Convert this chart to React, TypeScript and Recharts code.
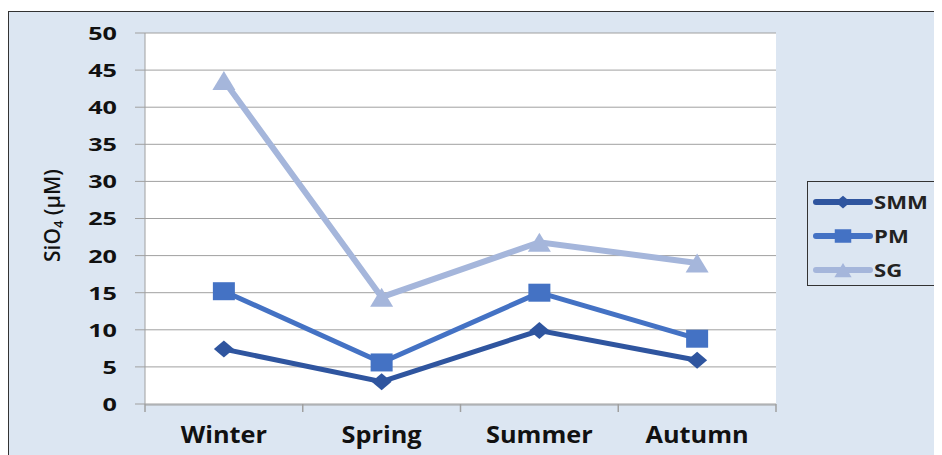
import { LineChart, Line, XAxis, YAxis, CartesianGrid } from 'recharts'

const seasons = ['Winter', 'Spring', 'Summer', 'Autumn']
const smm = [7.4, 3.0, 9.9, 5.9]
const pm = [15.2, 5.6, 15.0, 8.8]
const sg = [43.6, 14.4, 21.8, 19.0]
const yTicks = [0, 5, 10, 15, 20, 25, 30, 35, 40, 45, 50]
const boundaryTicks = [0, 1, 2, 3, 4]

const series = [
    { key: 'SMM', color: '#2F559F', shape: 'diamond' },
    { key: 'PM', color: '#4472C4', shape: 'square' },
    { key: 'SG', color: '#A5B6DB', shape: 'triangle' },
]

const data = seasons.map((s, i) => ({ season: s, SMM: smm[i], PM: pm[i], SG: sg[i] }))

// markers are drawn a bit wider than tall, like the stretched original
const Marker = ({ cx, cy, shape, color, k = 1 }: any) => {
    if (cx == null || cy == null) return null
    if (shape === 'diamond') {
        const w = 10 * k, h = 8.5 * k
        return <polygon points={`${cx},${cy - h} ${cx + w},${cy} ${cx},${cy + h} ${cx - w},${cy}`} fill={color} />
    }
    if (shape === 'square') {
        const w = 11 * k, h = 9 * k
        return <rect x={cx - w} y={cy - h} width={w * 2} height={h * 2} fill={color} />
    }
    const w = 11.5 * k, h = 9.5 * k
    return <polygon points={`${cx},${cy - h} ${cx + w},${cy + h} ${cx - w},${cy + h}`} fill={color} />
}

const stretch = (x: number, y: number, s: number) => `translate(${x},${y}) scale(${s},1) translate(${-x},${-y})`

const YTick = ({ x, y, payload }: any) => (
    <text x={x} y={y} textAnchor="end" dominantBaseline="central" transform={stretch(x, y, 1.4)}
        fontFamily="Open Sans" fontWeight={700} fontSize={18} fill="#111">{payload.value}</text>
)

const XTick = ({ x, y, payload }: any) => (
    <text x={x} y={y} textAnchor="middle" dominantBaseline="central" transform={stretch(x, y, 1.1)}
        fontFamily="Open Sans" fontWeight={700} fontSize={23} fill="#111">{payload.value}</text>
)

const YLabel = ({ viewBox }: any) => {
    const cx = 43
    const cy = viewBox.y + viewBox.height / 2 - 3
    return (
        <text x={cx} y={cy} transform={`rotate(-90, ${cx}, ${cy})`} textAnchor="middle" dominantBaseline="central"
            fontFamily="Open Sans" fontWeight={600} fontSize={21} fill="#111">
            SiO<tspan fontSize={13} dy={6}>4</tspan><tspan dy={-6}> (µM)</tspan>
        </text>
    )
}

const LegendBox = () => (
    <div style={{ position: 'absolute', left: 798, top: 169, width: 130, height: 105, border: '1px solid #333', boxSizing: 'border-box', paddingTop: 3 }}>
        {series.map((s) => (
            <div key={s.key} style={{ display: 'flex', alignItems: 'center', height: 34 }}>
                <svg width={66} height={24} style={{ flex: 'none' }}>
                    <line x1={8} y1={12} x2={62} y2={12} stroke={s.color} strokeWidth={6} strokeLinecap="round" />
                    <Marker cx={35} cy={12} shape={s.shape} color={s.color} k={0.75} />
                </svg>
                <span style={{ fontFamily: 'Open Sans', fontWeight: 700, fontSize: 17, color: '#222', display: 'inline-block', transform: 'scaleX(1.3)', transformOrigin: 'left center' }}>{s.key}</span>
            </div>
        ))}
    </div>
)

export default function App() {
    return (
        <div style={{ position: 'relative', marginTop: 3, width: 940, height: 446, background: '#DCE6F2', border: '1px solid #333', boxSizing: 'border-box' }}>
            <LineChart width={938} height={444} data={data} margin={{ top: 21, right: 171, bottom: 0, left: 0 }}>
                <CartesianGrid vertical={false} stroke="#A0A0A0" fill="#FFFFFF" />
                {/* boundary tick marks between the seasons */}
                <XAxis xAxisId="bnd" dataKey="SMM" type="number" domain={[0, 4]} allowDataOverflow ticks={boundaryTicks} height={1}
                    axisLine={false} tickLine={{ stroke: '#A0A0A0', strokeWidth: 1.5 }} tickSize={8} tick={() => <g />} />
                <XAxis xAxisId="cat" dataKey="season" scale="band" axisLine={{ stroke: '#A0A0A0' }} tickLine={false}
                    tickSize={0} tickMargin={29} height={51} tick={<XTick />} interval={0} />
                <YAxis domain={[0, 50]} ticks={yTicks} width={136} interval={0} axisLine={{ stroke: '#A0A0A0' }}
                    tickLine={{ stroke: '#A0A0A0' }} tickSize={10} tickMargin={18} tick={<YTick />}
                    label={<YLabel />} />
                <YAxis yAxisId="r" orientation="right" width={0} tick={false} tickLine={false} axisLine={{ stroke: '#555', strokeWidth: 1.5 }} />
                {series.map((s) => (
                    <Line key={s.key} xAxisId="cat" dataKey={s.key} stroke={s.color} strokeWidth={s.key === 'SG' ? 6 : 5}
                        isAnimationActive={false}
                        dot={(p: any) => <Marker key={`${s.key}-${p.index}`} cx={p.cx} cy={p.cy} shape={s.shape} color={s.color} />}
                        activeDot={false} />
                ))}
            </LineChart>
            <LegendBox />
        </div>
    )
}
